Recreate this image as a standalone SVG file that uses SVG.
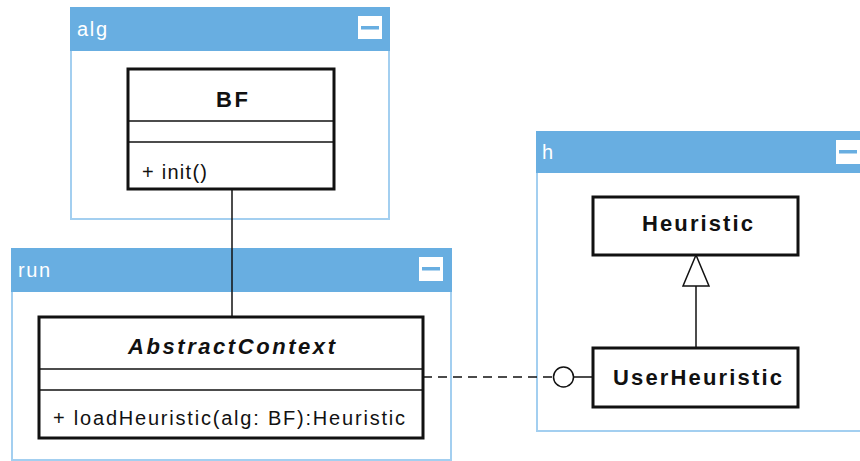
<svg xmlns="http://www.w3.org/2000/svg" width="860" height="461" viewBox="0 0 860 461">
  <style>
    .pkg { fill: #ffffff; stroke: #a3cff0; stroke-width: 2; }
    .pkg-head { fill: #68aee1; }
    .pkg-name { font-family: "Liberation Sans", Arial, sans-serif; font-size: 20px; fill: #ffffff; }
    .btn { fill: #ffffff; }
    .btn-bar { fill: #68aee1; }
    .cls { fill: #ffffff; stroke: #111111; stroke-width: 3; }
    .div { stroke: #111111; stroke-width: 1.5; }
    .title { font-family: "Liberation Sans", Arial, sans-serif; font-size: 22px; font-weight: bold; fill: #111111; }
    .member { font-family: "Liberation Sans", Arial, sans-serif; font-size: 20px; fill: #111111; }
    .edge { stroke: #111111; stroke-width: 1.5; fill: none; }
  </style>

  <!-- package: alg -->
  <g id="pkg-alg">
    <rect class="pkg" x="71" y="8" width="318" height="211"/>
    <rect class="pkg-head" x="70" y="7" width="320" height="44"/>
    <text class="pkg-name" x="77" y="36" textLength="30" lengthAdjust="spacing">alg</text>
    <rect class="btn" x="358" y="16" width="24" height="23"/>
    <rect class="btn-bar" x="361" y="26" width="18" height="3.5"/>
  </g>

  <!-- package: run -->
  <g id="pkg-run">
    <rect class="pkg" x="12" y="249" width="439" height="211"/>
    <rect class="pkg-head" x="11" y="248" width="441" height="44"/>
    <text class="pkg-name" x="18" y="277" textLength="32" lengthAdjust="spacing">run</text>
    <rect class="btn" x="419" y="257" width="24" height="24"/>
    <rect class="btn-bar" x="422" y="267" width="18" height="3.5"/>
  </g>

  <!-- package: h -->
  <g id="pkg-h">
    <rect class="pkg" x="537" y="132" width="330" height="299"/>
    <rect class="pkg-head" x="536" y="131" width="330" height="42"/>
    <text class="pkg-name" x="542" y="159">h</text>
    <rect class="btn" x="836" y="140" width="24" height="24"/>
    <rect class="btn-bar" x="839" y="150" width="18" height="3.5"/>
  </g>

  <!-- connectors -->
  <g id="connectors">
    <line class="edge" x1="232" y1="189" x2="232" y2="317"/>
    <line class="edge" x1="423" y1="377" x2="553" y2="377" stroke-dasharray="9,6"/>
    <circle class="edge" cx="563.5" cy="377" r="10" fill="#ffffff"/>
    <line class="edge" x1="574" y1="377" x2="593" y2="377"/>
    <line class="edge" x1="696" y1="286" x2="696" y2="348"/>
    <polygon points="696,255 683,286 709,286" fill="#ffffff" stroke="#111111" stroke-width="1.5"/>
  </g>

  <!-- class BF -->
  <g id="BF">
    <rect class="cls" x="128" y="69" width="206" height="120"/>
    <line class="div" x1="128" y1="121" x2="334" y2="121"/>
    <line class="div" x1="128" y1="142" x2="334" y2="142"/>
    <text class="title" x="232" y="107" text-anchor="middle" textLength="32" lengthAdjust="spacing">BF</text>
    <text class="member" x="142" y="179" textLength="65" lengthAdjust="spacing">+ init()</text>
  </g>

  <!-- class AbstractContext -->
  <g id="AbstractContext">
    <rect class="cls" x="39" y="317" width="384" height="121"/>
    <line class="div" x1="39" y1="369" x2="423" y2="369"/>
    <line class="div" x1="39" y1="390" x2="423" y2="390"/>
    <text class="title" x="231.5" y="354" text-anchor="middle" font-style="italic" textLength="207" lengthAdjust="spacing">AbstractContext</text>
    <text class="member" x="53" y="425" textLength="352" lengthAdjust="spacing">+ loadHeuristic(alg: BF):Heuristic</text>
  </g>

  <!-- class Heuristic -->
  <g id="Heuristic">
    <rect class="cls" x="593" y="197" width="205" height="58"/>
    <text class="title" x="697.5" y="231" text-anchor="middle" textLength="111" lengthAdjust="spacing">Heuristic</text>
  </g>

  <!-- class UserHeuristic -->
  <g id="UserHeuristic">
    <rect class="cls" x="593" y="348" width="205" height="59"/>
    <text class="title" x="697.5" y="385" text-anchor="middle" textLength="169" lengthAdjust="spacing">UserHeuristic</text>
  </g>
</svg>
